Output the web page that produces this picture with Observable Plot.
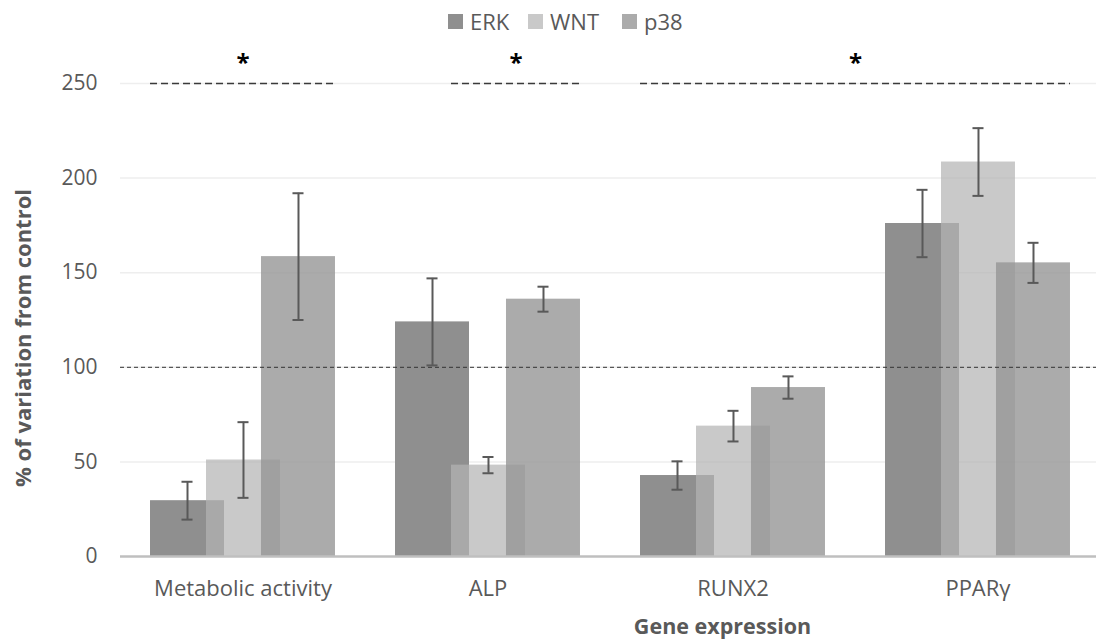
<!DOCTYPE html>
<html>
<head>
<meta charset="utf-8">
<script src="https://cdn.jsdelivr.net/npm/d3@7"></script>
<script src="https://cdn.jsdelivr.net/npm/@observablehq/plot@0.6"></script>
<style>
  html, body { margin: 0; padding: 0; background: #fff; overflow: hidden; }
  body { width: 1096px; height: 640px; font-family: "Open Sans", sans-serif; }
  #legend { position: relative; height: 36px; }
  #legend .item { position: absolute; top: 7px; display: flex; align-items: center; font-size: 22px; color: #595959; line-height: 28px; }
  #legend .sw { width: 15px; height: 15px; margin-right: 7px; }
  svg { display: block; }
</style>
</head>
<body>
<div id="legend"></div>
<div id="chart"></div>
<script>
// ---- data ----
const categories = ["Metabolic activity", "ALP", "RUNX2", "PPARγ"];
const series = ["ERK", "WNT", "p38"];
const erkMean = [29.5, 124, 42.8, 176];
const erkErr  = [10, 23, 7.5, 17.8];
const wntMean = [51, 48.3, 68.9, 208.5];
const wntErr  = [20, 4.3, 8.1, 17.9];
const p38Mean = [158.5, 136, 89.3, 155.2];
const p38Err  = [33.5, 6.6, 5.9, 10.6];
const yTicks = [0, 50, 100, 150, 200, 250];
const controlLevel = [100];
const significance = [
  {from: ["Metabolic activity", "ERK"], to: ["Metabolic activity", "p38"], label: "*", level: 250},
  {from: ["ALP", "WNT"], to: ["ALP", "p38"], label: "*", level: 250},
  {from: ["RUNX2", "ERK"], to: ["PPARγ", "p38"], label: "*", level: 250}
];
const yLabel = "% of variation from control";
const xLabel = "Gene expression";

// ---- styling ----
const colors = {ERK: "#8f8f8f", WNT: "#b3b3b3", p38: "#969696"};
const opac = {ERK: 1, WNT: 0.714, p38: 0.796};
const legendColors = {ERK: "#8f8f8f", WNT: "#c9c9c9", p38: "#ababab"};
const offset = {ERK: -0.2265, WNT: 0.002, p38: 0.2265};
const halfW = 0.151;
const capHalf = 0.0225;

const means = {ERK: erkMean, WNT: wntMean, p38: p38Mean};
const errs = {ERK: erkErr, WNT: wntErr, p38: p38Err};
const rows = [];
for (const s of series) {
  categories.forEach((c, i) => {
    rows.push({cat: c, series: s, x: i + offset[s], mean: means[s][i], err: errs[s][i]});
  });
}
const posOf = (c, s) => categories.indexOf(c) + offset[s];
const sigRows = significance.map(d => {
  const x1 = posOf(...d.from) - halfW;
  const x2 = posOf(...d.to) + halfW;
  return {x1, x2, mid: (x1 + x2) / 2, label: d.label, level: d.level};
});

// legend
const lx = {ERK: 448, WNT: 528, p38: 622};
const legend = document.getElementById("legend");
for (const s of series) {
  const it = document.createElement("div");
  it.className = "item";
  it.style.left = lx[s] + "px";
  it.innerHTML = `<span class="sw" style="background:${legendColors[s]}"></span><span>${s}</span>`;
  legend.appendChild(it);
}

const chart = Plot.plot({
  width: 1096,
  height: 604,
  marginLeft: 120,
  marginRight: -4,
  marginTop: 47,
  marginBottom: 84,
  style: {fontFamily: "Open Sans, sans-serif", color: "#595959", background: "#fff"},
  x: {domain: [-0.5, 3.5], axis: null},
  y: {domain: [0, 250], axis: null},
  marks: [
    Plot.ruleY(yTicks.filter(t => t > 0), {stroke: "#eeeeee", strokeWidth: 1.5}),
    Plot.rectY(rows, {
      x1: d => d.x - halfW, x2: d => d.x + halfW, y1: 0, y2: "mean",
      fill: d => colors[d.series], fillOpacity: d => opac[d.series]
    }),
    Plot.ruleY([0], {stroke: "#bfbfbf", strokeWidth: 2.5}),
    Plot.ruleY(controlLevel, {stroke: "#333", strokeWidth: 1, strokeDasharray: "4,3"}),
    Plot.ruleX(rows, {x: "x", y1: d => d.mean - d.err, y2: d => d.mean + d.err, stroke: "#595959", strokeWidth: 2}),
    Plot.ruleY(rows, {y: d => d.mean + d.err, x1: d => d.x - capHalf, x2: d => d.x + capHalf, stroke: "#595959", strokeWidth: 2}),
    Plot.ruleY(rows, {y: d => d.mean - d.err, x1: d => d.x - capHalf, x2: d => d.x + capHalf, stroke: "#595959", strokeWidth: 2}),
    Plot.ruleY(sigRows, {y: "level", x1: "x1", x2: "x2", stroke: "#3a3a3a", strokeWidth: 1.3, strokeDasharray: "7,4"}),
    Plot.text(sigRows, {x: "mid", y: "level", text: "label", dy: -20, fontSize: 24, fontWeight: "bold", fill: "#000"}),
    Plot.axisY(yTicks, {tickSize: 0, tickPadding: 23, fontSize: 21, fill: "#595959", label: null}),
    Plot.axisX(categories.map((c, i) => i), {tickSize: 0, tickPadding: 24, fontSize: 22, fill: "#595959", tickFormat: i => categories[i], label: null}),
    Plot.text([yLabel], {frameAnchor: "left", textAnchor: "middle", rotate: -90, dx: -97, dy: 18, fontSize: 22, fontWeight: "bold", fill: "#595959"}),
    Plot.text([xLabel], {frameAnchor: "bottom", textAnchor: "middle", dx: 112, dy: 77, fontSize: 21.5, fontWeight: "bold", fill: "#595959"})
  ]
});
document.getElementById("chart").appendChild(chart);
</script>
</body>
</html>
